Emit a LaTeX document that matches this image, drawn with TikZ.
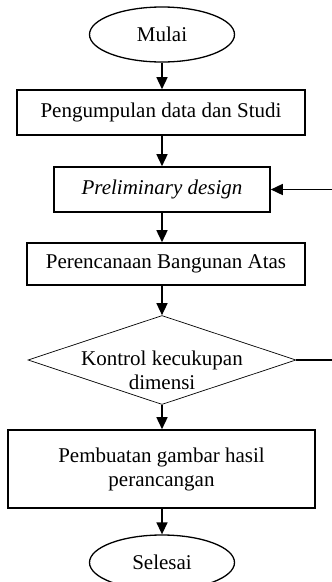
\documentclass[tikz,border=0pt]{standalone}
\usepackage{fontspec}
\setmainfont{Liberation Serif}
\usetikzlibrary{shapes.geometric,arrows.meta}
\begin{document}
\begin{tikzpicture}[x=1pt,y=-1pt,
  every node/.style={font=\fontsize{21}{24}\selectfont},
  termbox/.style={ellipse,draw,line width=1.3pt,inner sep=0pt,minimum width=145pt,minimum height=55pt},
  procbox/.style={rectangle,draw,line width=1.6pt,inner sep=0pt,align=center},
  decbox/.style={diamond,draw,line width=0.7pt,inner sep=0pt,minimum width=268pt,minimum height=89pt},
  arr/.style={line width=1.5pt,-{Triangle[length=12pt,width=11pt]}},
  plainline/.style={line width=1.4pt}]
\useasboundingbox (0,0) rectangle (332,582);
\node[termbox] (start) at (162,34.5) {Mulai};
\node[procbox,minimum width=288pt,minimum height=45pt] (b1) at (161,112.5) {Pengumpulan data dan Studi};
\node[procbox,minimum width=216pt,minimum height=45pt] (b2) at (162,189.5) {\itshape Preliminary design};
\node[procbox,minimum width=278pt,minimum height=42pt] (b3) at (166,264) {Perencanaan Bangunan Atas};
\node[decbox] (d) at (162,360) {};
\node[align=center] (dt) at (162,370) {Kontrol kecukupan\\dimensi};
\node[procbox,minimum width=307pt,minimum height=78pt] (b4) at (161.5,469) {Pembuatan gambar hasil\\perancangan};
\node[termbox] (end) at (162,562.5) {Selesai};
\coordinate (fbin) at (334,189.5);
\coordinate (fbout) at (334,360);
\draw[arr] (start.south) -- (start.south |- b1.north);
\draw[arr] (start.south |- b1.south) -- (start.south |- b2.north);
\draw[arr] (start.south |- b2.south) -- (start.south |- b3.north);
\draw[arr] (d.north |- b3.south) -- (d.north);
\draw[arr] (d.south) -- (d.south |- b4.north);
\draw[arr] (end.north |- b4.south) -- (end.north);
\draw[arr] (fbin) -- (b2.east);
\draw[plainline] (d.east) -- (fbout);
\end{tikzpicture}
\end{document}
